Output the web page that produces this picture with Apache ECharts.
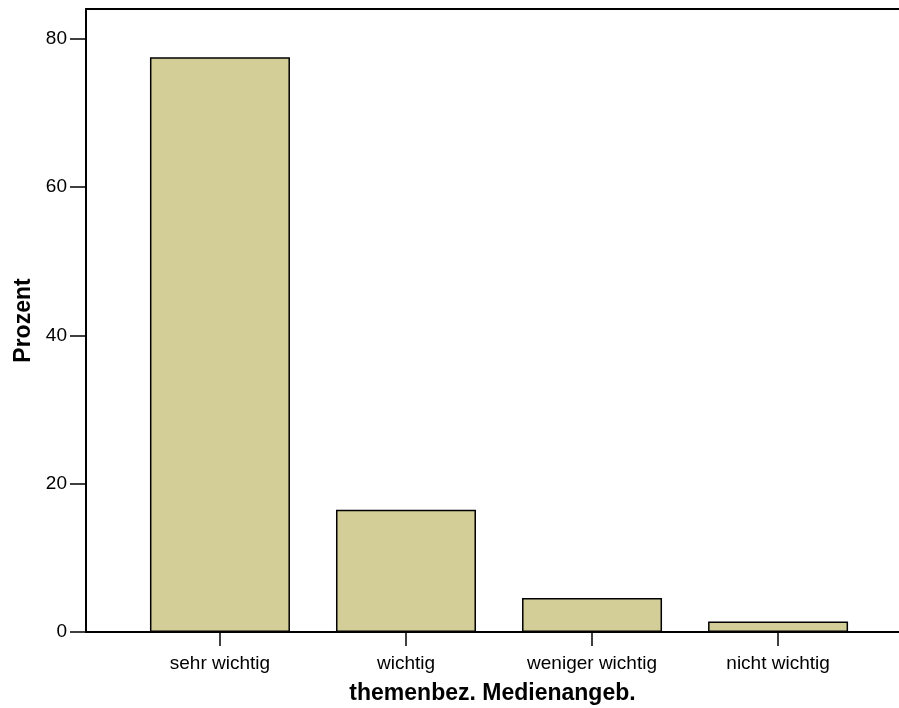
<!DOCTYPE html>
<html>
<head>
<meta charset="utf-8">
<script src="https://cdn.jsdelivr.net/npm/echarts@6/dist/echarts.min.js"></script>
<style>
  html, body { margin: 0; padding: 0; background: #fff; }
  #main { width: 899px; height: 708px; }
</style>
</head>
<body>
<div id="main"></div>
<script>
// Kategorien und Werte (Prozent)
const categories = ['sehr wichtig', 'wichtig', 'weniger wichtig', 'nicht wichtig'];
const prozent = [77.5, 16.5, 4.6, 1.4];
const yTicks = [0, 20, 40, 60, 80];

let myChart = echarts.init(document.getElementById('main'));
const font = 'Arial, "Liberation Sans", sans-serif';

let option = {
  animation: false,
  backgroundColor: '#fff',
  grid: {
    left: 86,
    right: 0,
    top: 9,
    bottom: 76,
    outerBoundsMode: 'none'
  },
  xAxis: [
    {
      type: 'value',
      min: -0.72,
      max: 3.65,
      name: 'themenbez. Medienangeb.',
      nameLocation: 'middle',
      nameGap: 50,
      nameTextStyle: { fontFamily: font, fontSize: 23, fontWeight: 'bold', color: '#000' },
      axisLine: { show: true, onZero: false, lineStyle: { color: '#000', width: 2 } },
      axisTick: {
        show: true,
        customValues: [0, 1, 2, 3],
        length: 14,
        lineStyle: { color: '#000', width: 1.5 }
      },
      axisLabel: {
        customValues: [0, 1, 2, 3],
        margin: 22,
        fontFamily: font,
        fontSize: 19,
        color: '#000',
        formatter: function (v) { return categories[Math.round(v)]; }
      },
      splitLine: { show: false }
    },
    {
      // obere Rahmenlinie
      type: 'value',
      position: 'top',
      min: -0.72,
      max: 3.65,
      axisLine: { show: true, onZero: false, lineStyle: { color: '#000', width: 2 } },
      axisTick: { show: false },
      axisLabel: { show: false },
      splitLine: { show: false }
    }
  ],
  yAxis: {
    type: 'value',
    min: 0,
    max: 84,
    interval: 20,
    name: 'Prozent',
    nameLocation: 'middle',
    nameGap: 51,
    nameTextStyle: { fontFamily: font, fontSize: 23, fontWeight: 'bold', color: '#000' },
    axisLine: { show: true, onZero: false, lineStyle: { color: '#000', width: 2 } },
    axisTick: {
      show: true,
      customValues: yTicks,
      length: 16,
      lineStyle: { color: '#000', width: 1.5 }
    },
    axisLabel: {
      customValues: yTicks,
      margin: 19,
      fontFamily: font,
      fontSize: 19,
      color: '#000'
    },
    splitLine: { show: false }
  },
  series: [
    {
      type: 'bar',
      barWidth: 140,
      data: prozent.map((v, i) => [i, v]),
      itemStyle: {
        color: '#d3ce98',
        borderColor: '#000',
        borderWidth: 1.5
      }
    }
  ]
};
myChart.setOption(option);
</script>
</body>
</html>
